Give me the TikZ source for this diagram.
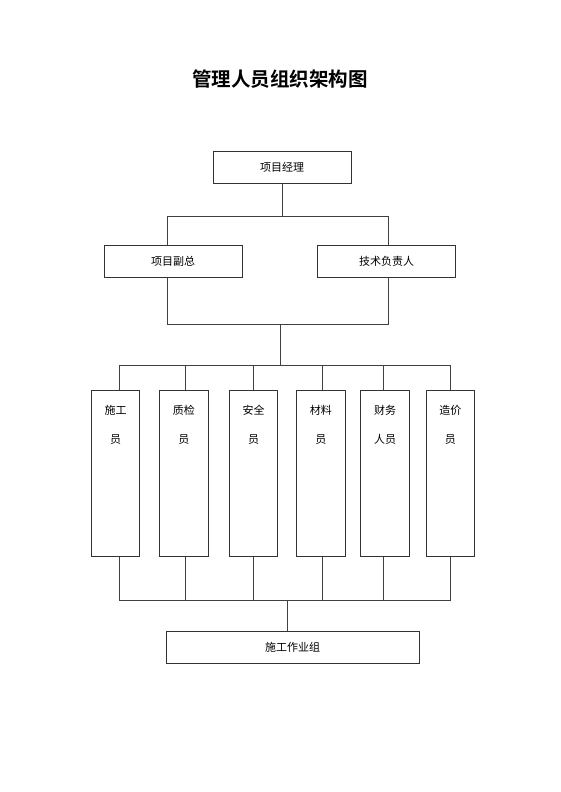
\documentclass[tikz,border=0pt]{standalone}
\usepackage{fontspec}
\newfontfamily\cjk{Noto Sans CJK SC}
\newfontfamily\cjkbold{Noto Sans CJK SC Bold}
\begin{document}
\begin{tikzpicture}[x=1pt,y=-1pt,
  box/.style={draw=black!80,line width=0.9pt,fill=white,inner sep=0pt,font=\cjk\fontsize{11}{13}\selectfont},
  colbox/.style={box,minimum width=48.2pt,minimum height=166.7pt},
  txt/.style={font=\cjk\fontsize{11}{13}\selectfont,inner sep=1pt},
  conn/.style={draw=black!75,line width=0.9pt}]
\useasboundingbox (0,0) rectangle (560,792);
\node[font=\cjkbold\fontsize{19.5}{22}\selectfont] (title) at (280,79) {管理人员组织架构图};
% top levels
\node[box,minimum width=138pt,minimum height=31.5pt] (pm) at (282,167.5) {项目经理};
\node[box,minimum width=138pt,minimum height=32pt] (vp) at (173,261.3) {项目副总};
\node[box,minimum width=138pt,minimum height=32pt] (tech) at (386.7,261.3) {技术负责人};
\coordinate (j1) at (282,216);
\coordinate (j1l) at (167,216);
\coordinate (j1r) at (388,216);
\coordinate (j2l) at (167,324);
\coordinate (j2r) at (388,324);
\coordinate (j2) at (280.7,324);
\coordinate (j3) at (280.7,365);
\draw[conn] (pm.south) -- (j1);
\draw[conn] (j1l) -- (j1r);
\draw[conn] (j1l) -- (j1l|-vp.north);
\draw[conn] (j1r) -- (j1r|-tech.north);
\draw[conn] (j2l|-vp.south) -- (j2l) -- (j2r) -- (j2r|-tech.south);
\draw[conn] (j2) -- (j3);
% columns
\foreach \n/\x/\a/\b in {1/115.5/施工/员, 2/183.85/质检/员, 3/253.7/安全/员, 4/320.85/材料/员, 5/385/财务/人员, 6/450.3/造价/员}{
  \node[colbox] (c\n) at (\x,473.35) {};
  \node[txt] (c\n a) at (\x,410) {\a};
  \node[txt] (c\n b) at (\x,439.3) {\b};
}
\coordinate (t1) at (119,365);
\coordinate (t2) at (185,365);
\coordinate (t3) at (253,365);
\coordinate (t4) at (322,365);
\coordinate (t5) at (383.7,365);
\coordinate (t6) at (450.3,365);
\coordinate (b1) at (119,600.7);
\coordinate (b2) at (185,600.7);
\coordinate (b3) at (253,600.7);
\coordinate (b4) at (322,600.7);
\coordinate (b5) at (383.7,600.7);
\coordinate (b6) at (450.3,600.7);
\coordinate (bm) at (287,600.7);
\draw[conn] (t1) -- (t6);
\draw[conn] (b1) -- (b6);
\foreach \i in {1,...,6}{
  \draw[conn] (t\i) -- (t\i|-c\i.north);
  \draw[conn] (b\i|-c\i.south) -- (b\i);
}
\node[box,minimum width=252.7pt,minimum height=32pt] (team) at (292.6,647.7) {施工作业组};
\draw[conn] (bm) -- (bm|-team.north);
\end{tikzpicture}
\end{document}
